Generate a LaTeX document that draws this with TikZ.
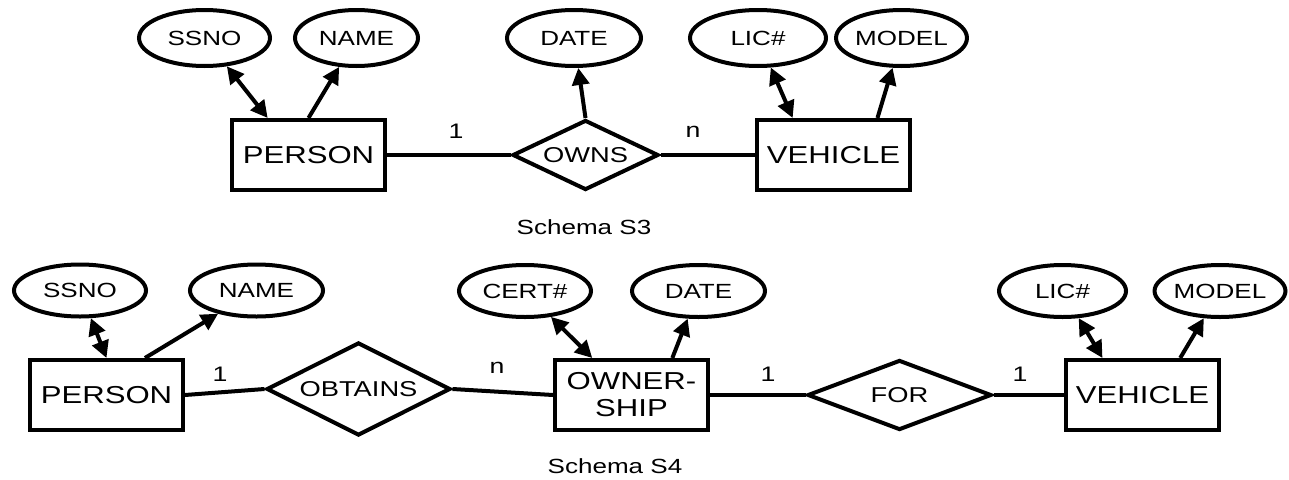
\documentclass[tikz,border=0pt]{standalone}
\usepackage{fontspec}
\setmainfont{Liberation Sans}[FakeStretch=1.27]
\usetikzlibrary{shapes.geometric,arrows.meta,calc}

\tikzset{
  entity/.style={draw, line width=4pt, rectangle, inner sep=0pt,
    minimum width=153pt, minimum height=70pt, align=center,
    font=\fontsize{24.5}{27}\selectfont},
  attr/.style={draw, line width=4pt, ellipse, inner sep=0pt,
    minimum width=#1, font=\fontsize{20.5}{23}\selectfont},
  attrtop/.style={attr=#1, minimum height=56pt},
  attrbot/.style={attr=#1, minimum height=52pt},
  rel/.style={draw, line width=4pt, diamond, inner sep=0pt, aspect=2,
    line join=miter, font=\fontsize{21.5}{24}\selectfont},
  link/.style={line width=4pt},
  toattr/.style={line width=4pt, -{Triangle[length=17pt,width=17pt]}},
  keyattr/.style={line width=4pt, {Triangle[length=17pt,width=17pt]}-{Triangle[length=17pt,width=17pt]}},
  card/.style={inner sep=0pt, font=\fontsize{21}{23}\selectfont},
  caption/.style={inner sep=0pt, font=\fontsize{20.5}{23}\selectfont}
}

\begin{document}
\begin{tikzpicture}[x=1pt, y=-1pt]
\useasboundingbox (0,0) rectangle (1289,479);

% ---------- Schema S3 ----------
\node[entity] (p3) at (308.5,155) {PERSON};
\node[entity] (v3) at (833.5,155) {VEHICLE};
\node[rel, minimum width=146pt, minimum height=70pt] (owns) at (585.5,155) {OWNS};

\node[attrtop=131pt] (ssno3) at (204.5,38) {SSNO};
\node[attrtop=123pt] (name3) at (356.5,38) {NAME};
\node[attrtop=134pt] (date3) at (574,38) {DATE};
\node[attrtop=136pt] (lic3) at (758,38) {LIC\#};
\node[attrtop=129pt] (model3) at (901.5,38) {MODEL};

\draw[link] (p3.east) -- (owns.west);
\draw[link] (owns.east) -- (v3.west);
\node[card] (c31) at (456,131) {1};
\node[card] (c3n) at (693,132) {n};

\draw[keyattr] (ssno3) -- ($(p3.north west)!0.24!(p3.north east)$);
\draw[toattr] ($(p3.north west)!0.5!(p3.north east)$) -- (name3);
\draw[toattr] (owns.north) -- (date3);
\draw[keyattr] (lic3) -- ($(v3.north west)!0.24!(v3.north east)$);
\draw[toattr] ($(v3.north west)!0.78!(v3.north east)$) -- (model3);

\node[caption] (s3) at (584,227) {Schema S3};

% ---------- Schema S4 ----------
\node[entity] (p4) at (106.5,395) {PERSON};
\node[entity] (own) at (631.5,395) {OWNER-\\SHIP};
\node[entity] (v4) at (1142.5,395) {VEHICLE};
\node[rel, minimum width=184pt, minimum height=93pt] (obtains) at (358.5,389) {OBTAINS};
\node[rel, minimum width=184pt, minimum height=70pt] (for) at (899.5,395) {FOR};

\node[attrbot=132pt] (ssno4) at (80,290.5) {SSNO};
\node[attrbot=133pt] (name4) at (256.5,290.5) {NAME};
\node[attrbot=132pt] (cert4) at (525,291) {CERT\#};
\node[attrbot=133pt] (date4) at (698.5,291) {DATE};
\node[attrbot=127pt] (lic4) at (1062.5,291) {LIC\#};
\node[attrbot=130pt] (model4) at (1220,291) {MODEL};

\draw[link] (p4.east) -- (obtains.west);
\draw[link] (obtains.east) -- (own.west);
\draw[link] (own.east) -- (for.west);
\draw[link] (for.east) -- (v4.west);
\node[card] (c41) at (220,374) {1};
\node[card] (c4n) at (497,368) {n};
\node[card] (c42) at (768,374) {1};
\node[card] (c43) at (1020,374) {1};

\draw[keyattr] (ssno4) -- ($(p4.north west)!0.5!(p4.north east)$);
\draw[toattr] ($(p4.north west)!0.745!(p4.north east)$) -- (name4);
\draw[keyattr] (cert4) -- ($(own.north west)!0.25!(own.north east)$);
\draw[toattr] ($(own.north west)!0.76!(own.north east)$) -- (date4);
\draw[keyattr] (lic4) -- ($(v4.north west)!0.245!(v4.north east)$);
\draw[toattr] ($(v4.north west)!0.74!(v4.north east)$) -- (model4);

\node[caption] (s4) at (615,466) {Schema S4};
\end{tikzpicture}
\end{document}
